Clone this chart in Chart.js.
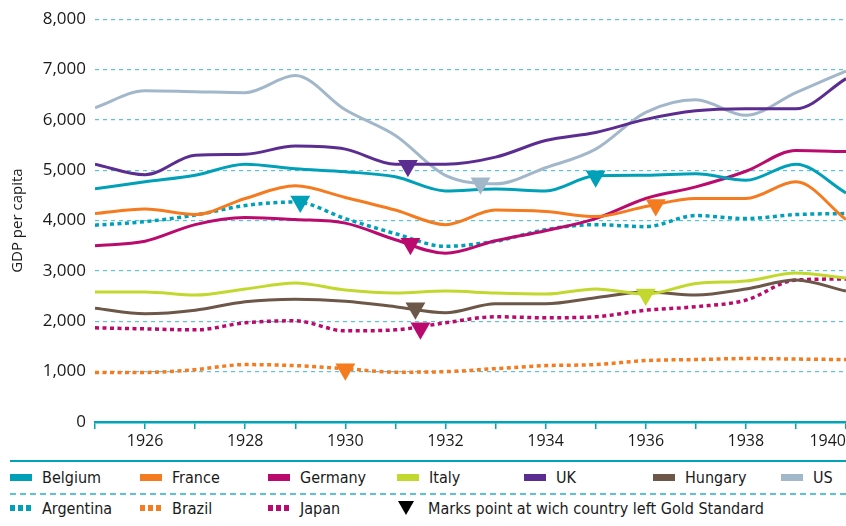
<!DOCTYPE html>
<html>
<head>
<meta charset="utf-8">
<script src="https://cdn.jsdelivr.net/npm/chart.js@4.4.1/dist/chart.umd.min.js"></script>
<style>
    html, body { margin: 0; padding: 0; background: #fff; }
    #wrap { position: relative; width: 846px; height: 526px; overflow: hidden; }
    #chart { position: absolute; left: 0; top: 0; }
    .rule { position: absolute; left: 10px; width: 836px; }
    .item { position: absolute; height: 24px; display: flex; align-items: center;
            font-family: "Liberation Sans Narrow", "DejaVu Sans Condensed", sans-serif;
            font-size: 16px; color: #1a1a1a; white-space: nowrap; }
    .sw { width: 22px; height: 7px; margin-right: 10px; }
    .tri { width: 0; height: 0; border-left: 8.5px solid transparent; border-right: 8.5px solid transparent;
           border-top: 14px solid #000; margin-right: 14px; }
</style>
</head>
<body>
<div id="wrap">
    <canvas id="chart" width="846" height="460"></canvas>
    <div class="rule" style="top:460px;height:2px;background:#00a3b8;"></div>
    <div class="rule" style="top:493px;height:1.5px;background:repeating-linear-gradient(to right,#5cc3d6 0 6px,transparent 6px 10px);"></div>
    <div id="legend"></div>
</div>
<script>
const years = [1925, 1926, 1927, 1928, 1929, 1930, 1931, 1932, 1933, 1934, 1935, 1936, 1937, 1938, 1939, 1940];

const belgium   = [4630, 4770, 4900, 5120, 5030, 4970, 4870, 4590, 4630, 4590, 4890, 4900, 4930, 4800, 5120, 4550];
const france    = [4140, 4230, 4120, 4440, 4690, 4460, 4210, 3920, 4210, 4180, 4080, 4280, 4440, 4440, 4770, 4020];
const germany   = [3500, 3590, 3920, 4060, 4020, 3950, 3620, 3350, 3600, 3800, 4040, 4440, 4670, 4980, 5390, 5370];
const italy     = [2580, 2580, 2520, 2640, 2760, 2620, 2560, 2600, 2560, 2540, 2640, 2540, 2750, 2800, 2960, 2860];
const uk        = [5120, 4910, 5300, 5320, 5480, 5420, 5120, 5120, 5260, 5590, 5750, 6010, 6180, 6220, 6220, 6820];
const hungary   = [2260, 2150, 2220, 2390, 2440, 2400, 2290, 2170, 2350, 2350, 2470, 2580, 2520, 2640, 2820, 2600];
const us        = [6240, 6580, 6560, 6540, 6880, 6200, 5690, 4900, 4730, 5050, 5420, 6150, 6400, 6090, 6540, 6970];
const argentina = [3910, 3980, 4110, 4300, 4370, 4040, 3740, 3490, 3590, 3820, 3920, 3880, 4100, 4040, 4120, 4140];
const brazil    = [985, 985, 1040, 1140, 1120, 1060, 990, 1000, 1060, 1120, 1140, 1220, 1240, 1260, 1250, 1240];
const japan     = [1870, 1850, 1830, 1970, 2010, 1810, 1830, 1970, 2090, 2070, 2090, 2220, 2290, 2420, 2820, 2840];

// point where each country left the gold standard
const goldCountries = ["Argentina", "Brazil", "UK", "Germany", "Hungary", "Japan", "US", "Belgium", "Italy", "France"];
const goldYears     = [1929.1, 1930.0, 1931.25, 1931.3, 1931.4, 1931.5, 1932.7, 1935.0, 1936.0, 1936.2];
const goldValues    = [4380, 1050, 5090, 3540, 2260, 1860, 4740, 4880, 2530, 4310];

const yTicks = [0, 1000, 2000, 3000, 4000, 5000, 6000, 7000, 8000];

const colors = {
    Belgium: "#00a0b9", France: "#f47b20", Germany: "#bb0a6e", Italy: "#c2d82e",
    UK: "#5c2d91", Hungary: "#6c5749", US: "#a2b8ca",
    Argentina: "#00a0b9", Brazil: "#f47b20", Japan: "#bb0a6e"
};

const series = [
    ["Belgium", belgium, false], ["France", france, false], ["Germany", germany, false],
    ["Italy", italy, false], ["UK", uk, false], ["Hungary", hungary, false], ["US", us, false],
    ["Argentina", argentina, true], ["Brazil", brazil, true], ["Japan", japan, true]
];

const lineSets = series.map(([name, values, dotted]) => ({
    type: "line",
    label: name,
    data: years.map((y, i) => ({ x: y, y: values[i] })),
    borderColor: colors[name],
    borderWidth: dotted ? 3.5 : 3,
    borderDash: dotted ? [4, 3.5] : [],
    pointRadius: 0,
    cubicInterpolationMode: "monotone",
    order: 1
}));

const markerSet = {
    type: "scatter",
    label: "gold",
    data: goldYears.map((x, i) => ({ x: x, y: goldValues[i] })),
    pointStyle: "triangle",
    rotation: 180,
    pointRadius: 11.5,
    pointBorderWidth: 0,
    pointBackgroundColor: goldCountries.map((c) => colors[c]),
    order: 0
};

Chart.defaults.font.family = "'Open Sans', sans-serif";
Chart.defaults.color = "#1a1a1a";

new Chart(document.getElementById("chart").getContext("2d"), {
    data: { datasets: [...lineSets, markerSet] },
    options: {
        responsive: false,
        animation: false,
        layout: { autoPadding: false, padding: { top: 16, right: 0, left: 0, bottom: 0 } },
        plugins: { legend: { display: false }, tooltip: { enabled: false } },
        scales: {
            x: {
                type: "linear",
                min: 1925,
                max: 1940,
                afterBuildTicks: (scale) => { scale.ticks = years.map((v) => ({ value: v })); },
                afterFit: (scale) => { scale.height = 38; scale.paddingRight = 0; scale.paddingLeft = 0; },
                grid: { drawOnChartArea: false, drawTicks: true, tickLength: 7, color: "#00a3b8", lineWidth: 1.5 },
                border: { display: true, color: "#00a3b8", width: 2.5 },
                ticks: {
                    autoSkip: false,
                    maxRotation: 0,
                    align: "inner",
                    padding: 3,
                    font: { size: 16 },
                    callback: (v) => (v % 2 === 0 ? String(v) : "")
                }
            },
            y: {
                min: 0,
                max: 8000,
                afterBuildTicks: (scale) => { scale.ticks = yTicks.map((v) => ({ value: v })); },
                afterFit: (scale) => { scale.width = 95; },
                grid: { drawTicks: false, color: "#5cc3d6", lineWidth: 1.2 },
                border: { display: false, dash: [4, 4] },
                ticks: {
                    padding: 9,
                    font: { size: 17 },
                    callback: (v) => v.toLocaleString("en-US")
                },
                title: {
                    display: true,
                    text: "GDP per capita",
                    font: { size: 15 },
                    padding: { top: 9, bottom: 0 }
                }
            }
        }
    }
});

// legend
const legendRows = [
    [["Belgium", false], ["France", false], ["Germany", false], ["Italy", false], ["UK", false], ["Hungary", false], ["US", false]],
    [["Argentina", true], ["Brazil", true], ["Japan", true]]
];
const colX = [10, 140, 268, 397, 524, 653, 781];
const rowY = [465, 496];
const legend = document.getElementById("legend");
legendRows.forEach((row, r) => {
    row.forEach(([name, dotted], c) => {
        const el = document.createElement("div");
        el.className = "item";
        el.style.left = colX[c] + "px";
        el.style.top = rowY[r] + "px";
        const sw = document.createElement("div");
        sw.className = "sw";
        if (dotted) {
            sw.style.height = "6px";
            sw.style.background = `repeating-linear-gradient(to right, ${colors[name]} 0 5px, transparent 5px 8px)`;
        } else {
            sw.style.background = colors[name];
        }
        el.appendChild(sw);
        el.appendChild(document.createTextNode(name));
        legend.appendChild(el);
    });
});
const note = document.createElement("div");
note.className = "item";
note.style.left = colX[3] + 1 + "px";
note.style.top = rowY[1] + "px";
note.innerHTML = '<div class="tri"></div>Marks point at wich country left Gold Standard';
legend.appendChild(note);
</script>
</body>
</html>
